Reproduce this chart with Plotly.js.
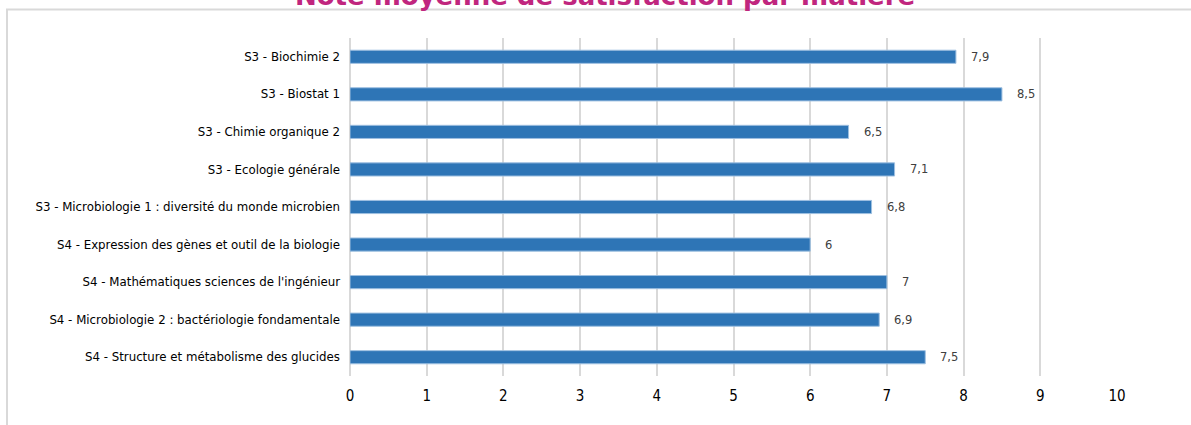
<!DOCTYPE html>
<html>
<head>
<meta charset="utf-8">
<script src="https://cdn.plot.ly/plotly-3.0.1.min.js"></script>
<style>
html,body{margin:0;padding:0;background:#fff;}
#chart{width:1191px;height:425px;}
</style>
</head>
<body>
<div id="chart"></div>
<script>
const categories = [
  "S3 - Biochimie 2",
  "S3 - Biostat 1",
  "S3 - Chimie organique 2",
  "S3 - Ecologie générale",
  "S3 - Microbiologie 1 : diversité du monde microbien",
  "S4 - Expression des gènes et outil de la biologie",
  "S4 - Mathématiques sciences de l'ingénieur",
  "S4 - Microbiologie 2 : bactériologie fondamentale",
  "S4 - Structure et métabolisme des glucides"
];
const values = [7.9, 8.5, 6.5, 7.1, 6.8, 6, 7, 6.9, 7.5];
const xTicks = [0,1,2,3,4,5,6,7,8,9,10];
const titleText = "Note moyenne de satisfaction par matière";

const fmt = v => String(v).replace('.', ',');

const trace = {
  type: 'bar',
  orientation: 'h',
  y: categories,
  x: values,
  marker: {color: '#2E75B6', line: {color: '#9DBFE0', width: 1}},
  hoverinfo: 'skip'
};

const annotations = values.map((v, i) => ({
  x: v, y: categories[i], xref: 'x', yref: 'y',
  text: fmt(v), showarrow: false, xanchor: 'left', xshift: 13,
  font: {family: 'DejaVu Sans, sans-serif', size: 11.5, color: '#404040'}
}));

const layout = {
  width: 1191, height: 425,
  margin: {l: 350, r: 74, t: 38, b: 49},
  paper_bgcolor: '#ffffff', plot_bgcolor: '#ffffff',
  bargap: 0.65,
  showlegend: false,
  separators: ', ',
  title: {
    text: '<b>' + titleText + '</b>',
    font: {family: 'DejaVu Sans, sans-serif', size: 26, color: '#C0267E'},
    x: 0.508, xanchor: 'center',
    yref: 'container', y: 0.9894, yanchor: 'bottom'
  },
  xaxis: {
    range: [0, 10], tickvals: xTicks, ticktext: xTicks.map(String),
    showgrid: true, gridcolor: '#D9D9D9', gridwidth: 2,
    zeroline: true, zerolinecolor: '#D9D9D9', zerolinewidth: 2,
    showline: false, ticks: '',
    tickfont: {family: 'DejaVu Sans Condensed, DejaVu Sans, sans-serif', size: 15, color: '#000000'},
    ticklabelstandoff: 9,
    fixedrange: true
  },
  yaxis: {
    type: 'category', autorange: 'reversed',
    showgrid: false, zeroline: false, showline: false, ticks: '',
    ticklabelstandoff: 9,
    tickfont: {family: 'DejaVu Sans, sans-serif', size: 11.8, color: '#000000'},
    fixedrange: true
  },
  annotations: annotations,
  shapes: [{
    type: 'rect', xref: 'paper', yref: 'paper',
    x0: (7 - 350) / 767, x1: 1.3,
    y0: -0.3, y1: 1 + (38 - 9.5) / 338,
    line: {color: '#D9D9D9', width: 2}, layer: 'below'
  }]
};

Plotly.newPlot('chart', [trace], layout, {displayModeBar: false, staticPlot: true});
</script>
</body>
</html>
